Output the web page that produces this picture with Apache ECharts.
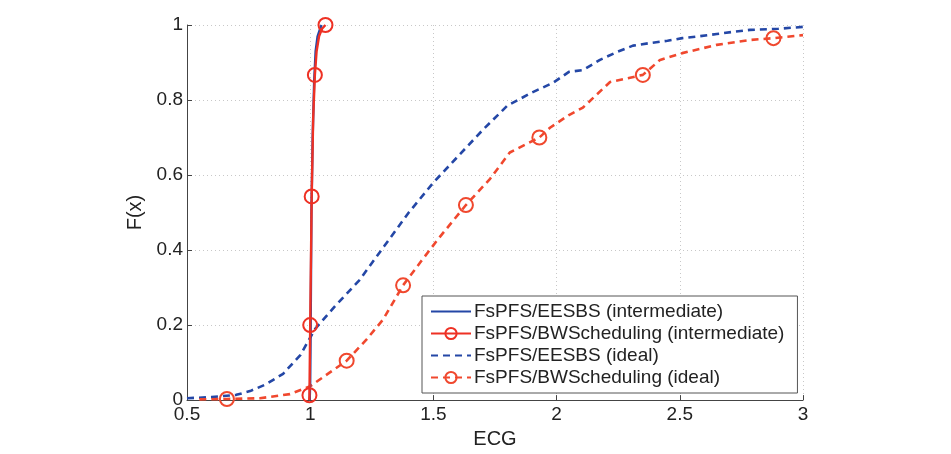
<!DOCTYPE html>
<html>
<head>
<meta charset="utf-8">
<script src="https://cdn.jsdelivr.net/npm/echarts@6/dist/echarts.min.js"></script>
<style>
  html, body { margin: 0; padding: 0; background: #fff; }
  #chart { width: 951px; height: 454px; }
</style>
</head>
<body>
<div id="chart"></div>
<script>
// ECG CDF curves
var xTicks = [0.5, 1, 1.5, 2, 2.5, 3];
var yTicks = [0, 0.2, 0.4, 0.6, 0.8, 1];

// intermediate, EESBS
var eeInterX = [0.998, 1.0, 1.002, 1.005, 1.010, 1.016, 1.022, 1.030, 1.040, 1.046];
var eeInterY = [0.0, 0.05, 0.2, 0.5, 0.7, 0.85, 0.93, 0.97, 0.99, 1.0];

// intermediate, BWScheduling
var bwInterX = [0.996, 0.997, 1.0, 1.006, 1.012, 1.019, 1.026, 1.036, 1.048, 1.062];
var bwInterY = [0.0, 0.013, 0.2, 0.543, 0.75, 0.867, 0.93, 0.97, 0.99, 1.0];
var bwInterMarks = [1, 2, 3, 5, 9];

// ideal, EESBS
var eeIdealX = [0.5, 0.6, 0.7, 0.756, 0.82, 0.89, 0.96, 1.02, 1.1, 1.2, 1.3, 1.4, 1.5, 1.6, 1.7, 1.8, 1.9, 1.986, 2.05, 2.107, 2.176, 2.245, 2.31, 2.38, 2.45, 2.51, 2.58, 2.65, 2.72, 2.785, 2.9, 3.0];
var eeIdealY = [0.005, 0.008, 0.014, 0.024, 0.042, 0.07, 0.12, 0.19, 0.25, 0.32, 0.41, 0.5, 0.58, 0.65, 0.72, 0.785, 0.82, 0.846, 0.875, 0.88, 0.907, 0.928, 0.945, 0.952, 0.958, 0.965, 0.97, 0.976, 0.982, 0.987, 0.99, 0.995];

// ideal, BWScheduling
var bwIdealX = [0.55, 0.662, 0.796, 0.918, 1.0, 1.08, 1.148, 1.229, 1.296, 1.377, 1.45, 1.52, 1.632, 1.73, 1.81, 1.93, 1.973, 2.05, 2.107, 2.217, 2.35, 2.42, 2.51, 2.65, 2.785, 2.88, 3.0];
var bwIdealY = [0.002, 0.003, 0.005, 0.016, 0.037, 0.074, 0.105, 0.162, 0.215, 0.306, 0.37, 0.43, 0.52, 0.59, 0.66, 0.70, 0.726, 0.76, 0.78, 0.848, 0.867, 0.907, 0.925, 0.947, 0.96, 0.965, 0.973];
var bwIdealMarks = [1, 6, 9, 12, 15, 20, 25];

var names = [
  'FsPFS/EESBS (intermediate)',
  'FsPFS/BWScheduling (intermediate)',
  'FsPFS/EESBS (ideal)',
  'FsPFS/BWScheduling (ideal)'
];

var blue = '#2447a6';
var red = '#ee3124';
var redDash = '#f0482e';
var clear = 'rgba(255,255,255,0)';
var fontFam = 'Liberation Sans, Arial, sans-serif';

function pts(xs, ys, marks) {
  return xs.map(function (x, i) {
    var d = { value: [x, ys[i]] };
    if (marks) d.symbol = marks.indexOf(i) >= 0 ? 'circle' : 'none';
    return d;
  });
}

var chart = echarts.init(document.getElementById('chart'), null, { renderer: 'canvas' });
chart.setOption({
  animation: false,
  backgroundColor: '#fff',
  grid: { left: 187, right: 148, top: 25, bottom: 53 },
  xAxis: {
    type: 'value',
    min: 0.5, max: 3, interval: 0.5,
    name: 'ECG',
    nameLocation: 'middle',
    nameGap: 27,
    nameTextStyle: { color: '#222', fontSize: 20, fontFamily: fontFam },
    axisLine: { lineStyle: { color: '#444', width: 1 } },
    axisTick: { inside: true, length: 5, lineStyle: { color: '#444' } },
    axisLabel: { color: '#222', fontSize: 19, fontFamily: fontFam, margin: 5,
      formatter: function (v) { return String(v); } },
    splitLine: { show: true, lineStyle: { color: '#c8c8c8', type: [1, 3] } }
  },
  yAxis: {
    type: 'value',
    min: 0, max: 1, interval: 0.2,
    name: 'F(x)',
    nameLocation: 'middle',
    nameGap: 37,
    nameTextStyle: { color: '#222', fontSize: 20, fontFamily: fontFam },
    axisLine: { show: true, lineStyle: { color: '#444', width: 1 } },
    axisTick: { show: true, inside: true, length: 5, lineStyle: { color: '#444' } },
    axisLabel: { color: '#222', fontSize: 19, fontFamily: fontFam, margin: 4,
      formatter: function (v) { return String(v); } },
    splitLine: { show: true, lineStyle: { color: '#c8c8c8', type: [1, 3] } }
  },
  legend: {
    orient: 'vertical',
    left: 422, top: 296,
    padding: [6, 13, 6, 8],
    itemGap: 3,
    itemWidth: 40,
    itemHeight: 14,
    backgroundColor: '#fff',
    borderColor: '#555',
    borderWidth: 1,
    borderRadius: 0,
    textStyle: { color: '#222', fontSize: 19, fontFamily: fontFam, padding: [0, 0, 0, -2] },
    data: [
      { name: names[0], itemStyle: { color: clear, borderWidth: 0, opacity: 0 } },
      { name: names[1] },
      { name: names[2], itemStyle: { color: clear, borderWidth: 0, opacity: 0 } },
      { name: names[3] }
    ]
  },
  series: [
    {
      name: names[2], type: 'line', data: pts(eeIdealX, eeIdealY),
      showSymbol: false, symbol: 'none', z: 2,
      lineStyle: { color: blue, width: 2.6, type: [7, 5] }, itemStyle: { color: blue }
    },
    {
      name: names[3], type: 'line', data: pts(bwIdealX, bwIdealY, bwIdealMarks),
      symbol: 'circle', symbolSize: 14, showAllSymbol: true, z: 3,
      lineStyle: { color: redDash, width: 2.6, type: [7, 5] },
      itemStyle: { color: clear, borderColor: redDash, borderWidth: 2 }
    },
    {
      name: names[0], type: 'line', data: pts(eeInterX, eeInterY),
      showSymbol: false, symbol: 'none', z: 4,
      lineStyle: { color: blue, width: 2.4 }, itemStyle: { color: blue }
    },
    {
      name: names[1], type: 'line', data: pts(bwInterX, bwInterY, bwInterMarks),
      symbol: 'circle', symbolSize: 14, showAllSymbol: true, z: 5,
      lineStyle: { color: red, width: 2.4 },
      itemStyle: { color: clear, borderColor: red, borderWidth: 2 }
    }
  ]
});
</script>
</body>
</html>
